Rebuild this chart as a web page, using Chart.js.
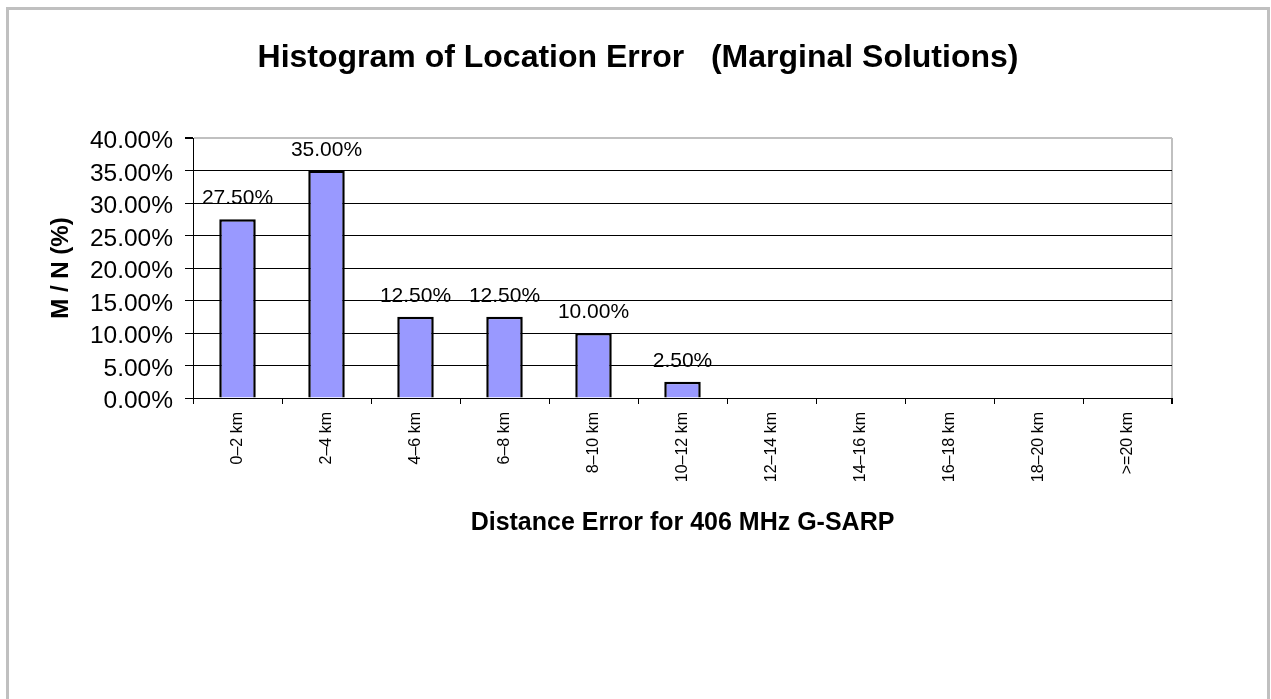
<!DOCTYPE html>
<html>
<head>
<meta charset="utf-8">
<script src="https://cdn.jsdelivr.net/npm/chart.js@4.4.1/dist/chart.umd.min.js"></script>
<style>
  html, body { margin: 0; padding: 0; background: #ffffff; overflow: hidden; }
  #frame { position: absolute; left: 6px; top: 7px; width: 1258px; height: 720px; border: 3px solid #c0c0c0; box-sizing: content-box; }
  #c { position: absolute; left: 0; top: 0; }
</style>
</head>
<body>
<div id="frame"></div>
<canvas id="c" width="1271" height="699"></canvas>
<script>
const chartTitle = 'Histogram of Location Error   (Marginal Solutions)';
const xTitle = 'Distance Error for 406 MHz G-SARP';
const yTitle = 'M / N (%)';
const categories = ['0\u20132 km', '2\u20134 km', '4\u20136 km', '6\u20138 km', '8\u201310 km', '10\u201312 km', '12\u201314 km', '14\u201316 km', '16\u201318 km', '18\u201320 km', '>=20 km'];
const percentValues = [27.5, 35.0, 12.5, 12.5, 10.0, 2.5, 0, 0, 0, 0, 0];
const yTickMin = 0, yTickMax = 40, yTickStep = 5;

const FONT = "'Liberation Sans', Arial, sans-serif";

const valueLabels = {
  id: 'valueLabels',
  afterDatasetsDraw(chart) {
    const ctx = chart.ctx;
    const meta = chart.getDatasetMeta(0);
    ctx.save();
    ctx.font = '21px ' + FONT;
    ctx.fillStyle = '#000';
    ctx.textAlign = 'center';
    ctx.textBaseline = 'alphabetic';
    meta.data.forEach((el, i) => {
      const v = chart.data.datasets[0].data[i];
      if (v > 0) ctx.fillText(v.toFixed(2) + '%', el.x, el.y - 15);
    });
    ctx.restore();
  }
};

new Chart(document.getElementById('c'), {
  type: 'bar',
  data: {
    labels: categories,
    datasets: [{
      data: percentValues,
      backgroundColor: '#9999ff',
      borderColor: '#000000',
      borderWidth: (c) => (c.raw > 0 ? 2.5 : 0),
      barPercentage: 0.41,
      categoryPercentage: 1.0
    }]
  },
  options: {
    responsive: false,
    animation: false,
    layout: { padding: { left: 5, right: 0, top: 0, bottom: 0 } },
    plugins: {
      legend: { display: false },
      tooltip: { enabled: false },
      title: {
        display: true,
        text: chartTitle,
        color: '#000',
        font: { family: FONT, size: 32, weight: 'bold', lineHeight: 1.2 },
        padding: { top: 39, bottom: 60.6 }
      }
    },
    scales: {
      x: {
        type: 'category',
        offset: true,
        grid: {
          offset: true,
          drawOnChartArea: true,
          color: (c) => (c.type === 'scale' ? '#c0c0c0' : 'rgba(0,0,0,0)'),
          lineWidth: (c) => (c.type === 'scale' ? 2 : 1),
          tickColor: '#000',
          tickLength: 6,
          drawTicks: true
        },
        border: { display: true, color: '#000', width: 1 },
        ticks: {
          color: '#000',
          font: { family: FONT, size: 16 },
          minRotation: 90,
          maxRotation: 90,
          autoSkip: false,
          padding: 8
        },
        title: {
          display: true,
          text: xTitle,
          color: '#000',
          font: { family: FONT, size: 25, weight: 'bold', lineHeight: 1.2 },
          padding: { top: 0, bottom: 161 }
        },
        afterFit: (s) => { s.height = 301; }
      },
      y: {
        type: 'linear',
        position: 'left',
        min: yTickMin,
        max: yTickMax,
        grid: {
          color: (c) => (c.tick && c.tick.value === yTickMax ? '#c0c0c0' : '#000'),
          lineWidth: (c) => (c.tick && c.tick.value === yTickMax ? 2 : 1),
          tickColor: '#000',
          tickLength: 8,
          drawTicks: true
        },
        border: { display: true, color: '#000', width: 1 },
        ticks: {
          stepSize: yTickStep,
          color: '#000',
          font: { family: FONT, size: 24.5 },
          padding: 12,
          labelOffset: 3.5,
          callback: (v) => Number(v).toFixed(2) + '%'
        },
        title: {
          display: true,
          text: yTitle,
          color: '#000',
          font: { family: FONT, size: 24, weight: 'bold', lineHeight: 1.2 },
          padding: { top: 41.6, bottom: 0 }
        },
        afterFit: (s) => { s.width = 188; }
      },
      yRight: {
        type: 'linear',
        position: 'right',
        display: true,
        grid: { display: false, drawTicks: false },
        border: { display: false },
        ticks: { display: false },
        afterFit: (s) => { s.width = 99; }
      }
    }
  },
  plugins: [valueLabels]
});
</script>
</body>
</html>
